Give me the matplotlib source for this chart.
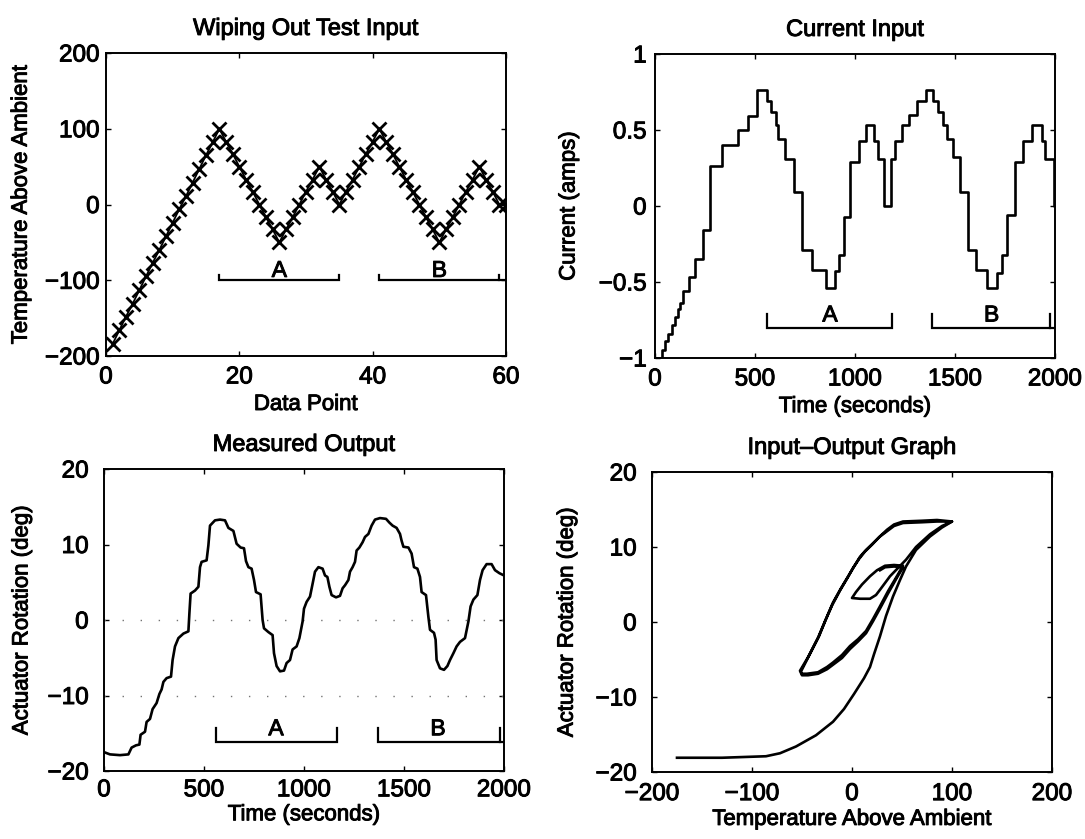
import matplotlib
matplotlib.use("Agg")
import matplotlib.pyplot as plt
import matplotlib.patheffects as pe
from matplotlib.text import Text

plt.rcParams['font.family'] = ['Liberation Sans', 'DejaVu Sans']
plt.rcParams['axes.linewidth'] = 1.4
plt.rcParams['xtick.direction'] = 'in'
plt.rcParams['ytick.direction'] = 'in'
plt.rcParams['xtick.top'] = True
plt.rcParams['ytick.right'] = True
plt.rcParams['xtick.major.size'] = 3.5
plt.rcParams['ytick.major.size'] = 3.5
plt.rcParams['xtick.major.width'] = 1.0
plt.rcParams['ytick.major.width'] = 1.0
plt.rcParams['axes.unicode_minus'] = True

# ---------------- data ----------------
# Wiping out test input (data point index, temperature above ambient)
tl_x = list(range(1, 61))
tl_temp = [-184, -166, -148, -131, -113, -95, -77, -60, -42, -24, -6, 11, 29, 47, 65, 82, 100,
           83, 67, 50, 33, 17, 0, -17, -33, -50,
           -33, -17, 0, 17, 33, 50,
           33, 17, 0,
           17, 33, 50, 67, 83, 100,
           83, 67, 50, 33, 17, 0, -17, -33, -50,
           -33, -17, 0, 17, 33, 50,
           33, 17, 0,
           0]

# Current input staircase (step start time, level)
cur_t = [0, 35, 50, 67, 85, 100, 115, 127, 142, 172, 200, 242, 275, 333, 417, 467, 512, 558, 578,
         603, 615, 650, 695, 737, 783, 853, 900, 922, 945, 975, 1020, 1057, 1094, 1115, 1143,
         1179, 1200, 1233, 1270, 1308, 1354, 1392, 1415, 1438, 1460, 1488, 1527, 1565, 1603,
         1658, 1708, 1735, 1762, 1800, 1840, 1885, 1933, 1950, 1995, 2000]
cur_v = [-1.0, -0.95, -0.89, -0.84, -0.78, -0.73, -0.68, -0.64, -0.56, -0.47, -0.35, -0.16, 0.26,
         0.40, 0.50, 0.59, 0.76, 0.69, 0.62, 0.53, 0.44, 0.31, 0.09, -0.29, -0.42, -0.54, -0.43,
         -0.32, -0.07, 0.29, 0.43, 0.53, 0.43, 0.31, 0.0, 0.31, 0.43, 0.53, 0.60, 0.69, 0.76,
         0.69, 0.62, 0.53, 0.44, 0.32, 0.09, -0.29, -0.42, -0.54, -0.44, -0.32, -0.06, 0.29,
         0.43, 0.53, 0.43, 0.31, 0.0, 0.0]

# Measured output (time, actuator rotation)
out_t = [0, 30, 80, 122, 138, 160, 177, 183, 205, 213, 230, 243, 263, 277, 288, 297, 313, 335,
         343, 355, 372, 397, 422, 427, 433, 455, 472, 480, 488, 513, 522, 530, 555, 580, 605,
         622, 647, 663, 683, 700, 710, 722, 738, 750, 760, 783, 793, 800, 822, 843, 850, 863,
         880, 900, 913, 930, 943, 963, 977,
         993, 1000, 1013, 1030, 1043, 1055, 1072, 1093, 1105, 1117, 1127, 1138, 1160, 1180,
         1193, 1205, 1222, 1230, 1243, 1255, 1263, 1277, 1293, 1305, 1322, 1338, 1355, 1380,
         1410, 1427, 1443, 1463, 1480, 1488, 1497, 1522, 1538, 1550, 1567, 1580, 1588, 1610,
         1622, 1630, 1650, 1658, 1663, 1680, 1700, 1717, 1730, 1747, 1763, 1780, 1805, 1822,
         1833, 1847, 1867, 1880, 1893, 1913, 1938, 1955, 1977, 2000]
out_v = [-17.5, -17.8, -17.9, -17.8, -16.9, -16.6, -16.5, -15.2, -14.8, -13.5, -13.1, -11.8,
         -11.0, -9.8, -9.2, -8.2, -7.7, -7.5, -5.3, -3.5, -2.4, -1.8, -1.5, 0.9, 3.5, 3.9, 4.4,
         7.0, 7.7, 7.9, 9.9, 12.5, 13.2, 13.3, 13.2, 12.2, 11.8, 10.1, 9.6, 9.5, 7.8, 7.0, 6.8,
         5.3, 3.7, 3.4, 0.0, -1.1, -1.6, -2.0, -4.4, -6.1, -6.8, -6.7, -5.7, -5.3, -3.9, -3.5,
         -2.4,
         -0.2, 1.5, 2.4, 3.1, 4.8, 6.4, 7.0, 6.8, 5.9, 5.7, 4.4, 3.3, 3.0, 3.2,
         4.2, 4.6, 5.3, 6.4, 7.0, 7.7, 9.2, 9.6, 10.3, 11.0, 11.4, 12.5, 13.3, 13.5,
         13.4, 12.9, 12.5, 12.2, 11.4, 10.5, 9.7, 9.6, 8.8, 7.0, 6.8, 5.7, 3.7, 3.3,
         0.4, -1.3, -1.7, -2.6, -5.3, -6.4, -6.6, -6.1, -5.3, -4.4, -3.5, -2.9, -2.4, -0.2,
         1.8, 2.7, 3.3, 5.3, 6.6, 7.4, 7.4, 6.6, 6.2, 5.9]

# Input-output graph (temperature above ambient, actuator rotation)
io_temp = [-175, -130, -86, -72, -56, -36, -19, -8, 2, 12, 18, 22, 28, 34, 41, 48, 54, 64, 78, 90, 100,
           85, 70, 51, 42, 36, 28, 21, 14, 8, 3, -2, -11, -19, -26, -33, -43, -51,
           -50, -45, -34, -25, -19, -10, -2, 6, 14, 21, 28, 36, 44, 51,
           42, 33, 25, 18, 10, 4, 0,
           8, 18, 24, 28, 33, 38, 46, 54, 64, 78, 90, 100,
           85, 70, 51, 42, 35, 27, 20, 13, 7, 1, -4, -12, -20, -27, -34, -44, -52,
           -50, -44, -34, -25, -18, -10, -2, 6, 14, 21, 28, 36, 44, 51,
           42, 33, 28]
io_rot = [-18.1, -18.1, -17.9, -17.5, -16.6, -15.1, -13.3, -11.6, -9.6, -7.5, -6.0, -4.3, -1.9, 0.8,
          3.4, 5.6, 7.4, 9.6, 11.4, 12.6, 13.4,
          13.4, 13.3, 13.2, 12.8, 12.2, 11.4, 10.5, 9.6, 8.7, 7.6, 6.5, 4.5, 2.6, 0.4, -1.9, -4.5, -6.6,
          -6.9, -6.9, -6.7, -6.0, -5.4, -4.4, -3.2, -2.3, -1.2, 0.4, 2.1, 4.1, 5.9, 7.5,
          7.6, 7.5, 6.9, 6.1, 5.0, 4.0, 3.2,
          3.1, 3.1, 3.6, 4.3, 5.2, 6.1, 7.2, 8.3, 10.0, 11.7, 12.8, 13.4,
          13.6, 13.5, 13.4, 13.0, 12.3, 11.3, 10.3, 9.4, 8.4, 7.2, 6.0, 4.2, 2.2, 0.1, -2.1, -4.7, -6.5,
          -7.1, -7.1, -6.9, -6.3, -5.6, -4.8, -3.6, -2.6, -1.5, 0.1, 1.8, 3.8, 5.7, 7.3,
          7.4, 7.3, 6.9]

# Bracket annotations: (label, start, end, label x)
tl_brackets = [('A', 17, 35, 26), ('B', 41, 59, 50)]
tr_brackets = [('A', 560, 1185, 875), ('B', 1385, 1975, 1683)]
bl_brackets = [('A', 560, 1167, 860), ('B', 1372, 1980, 1670)]

# ---------------- figure ----------------
W, H = 1085, 839
fig = plt.figure(figsize=(W / 100, H / 100), dpi=100)


def add_axes(left, top, right, bottom):
    return fig.add_axes([left / W, 1 - bottom / H, (right - left) / W, (bottom - top) / H])


TICK_FS = 17.5
LAB_FS = 16
TITLE_FS = 17
LW = 1.9


def style(ax, title, xlabel, ylabel, xpad, ypad, xl_y, yl_x):
    ax.set_title(title, fontsize=TITLE_FS, pad=13)
    ax.set_xlabel(xlabel, fontsize=LAB_FS, va='center')
    ax.set_ylabel(ylabel, fontsize=LAB_FS, va='center')
    ax.xaxis.set_label_coords(0.5, xl_y)
    ax.yaxis.set_label_coords(yl_x, 0.5)
    ax.tick_params(axis='x', labelsize=TICK_FS, pad=xpad)
    ax.tick_params(axis='y', labelsize=TICK_FS, pad=ypad)


def brackets(ax, items, y, h, ly, xmax=None):
    for lab, x0, x1, lx in items:
        ax.plot([x0, x0, x1, x1], [y + h, y, y, y + h], color='k', lw=1.6, solid_joinstyle='miter')
        if xmax is not None and lab == 'B':
            ax.plot([x1, xmax], [y, y], color='k', lw=1.6)
        ax.text(lx, ly, lab, fontsize=LAB_FS + 0.5, ha='center', va='center')


# Top-left
ax1 = add_axes(106, 53, 506, 356)
ax1.plot(tl_x, tl_temp, '-', color='k', lw=1.3, marker='x', ms=9.5, mew=2.0)
ax1.set_xlim(0, 60)
ax1.set_ylim(-200, 200)
ax1.set_xticks([0, 20, 40, 60])
ax1.set_yticks([-200, -100, 0, 100, 200])
brackets(ax1, tl_brackets, -100, 7, -87, xmax=60)
style(ax1, 'Wiping Out Test Input', 'Data Point', 'Temperature Above Ambient', 7.5, 4.5, -0.16, -0.212)

# Top-right
ax2 = add_axes(655, 54, 1055, 358)
ax2.step(cur_t, cur_v, where='post', color='k', lw=LW)
ax2.set_xlim(0, 2000)
ax2.set_ylim(-1, 1)
ax2.set_xticks([0, 500, 1000, 1500, 2000])
ax2.set_yticks([-1, -0.5, 0, 0.5, 1])
ax2.set_yticklabels(['−1', '−0.5', '0', '0.5', '1'])
brackets(ax2, tr_brackets, -0.8, 0.09, -0.717, xmax=2000)
style(ax2, 'Current Input', 'Time (seconds)', 'Current (amps)', 7.5, 6, -0.16, -0.215)

# Bottom-left
ax3 = add_axes(104, 469, 504, 771)
ax3.axhline(0, color='0.45', lw=1.0, ls=(0, (1, 12)))
ax3.axhline(-10, color='0.45', lw=1.0, ls=(0, (1, 12)))
ax3.plot(out_t, out_v, color='k', lw=LW)
ax3.set_xlim(0, 2000)
ax3.set_ylim(-20, 20)
ax3.set_xticks([0, 500, 1000, 1500, 2000])
ax3.set_yticks([-20, -10, 0, 10, 20])
brackets(ax3, bl_brackets, -16.1, 1.8, -14.4, xmax=2000)
style(ax3, 'Measured Output', 'Time (seconds)', 'Actuator Rotation (deg)', 6, 11, -0.145, -0.205)

# Bottom-right
ax4 = add_axes(652, 472, 1052, 772)
ax4.plot(io_temp, io_rot, color='k', lw=LW)
ax4.set_xlim(-200, 200)
ax4.set_ylim(-20, 20)
ax4.set_xticks([-200, -100, 0, 100, 200])
ax4.set_yticks([-20, -10, 0, 10, 20])
style(ax4, 'Input–Output Graph', 'Temperature Above Ambient', 'Actuator Rotation (deg)', 8, 11, -0.158, -0.212)

# slightly heavier text, like the printed original
for t in fig.findobj(Text):
    t.set_path_effects([pe.withStroke(linewidth=0.7, foreground='black')])

fig.savefig('out.png', dpi=100)
